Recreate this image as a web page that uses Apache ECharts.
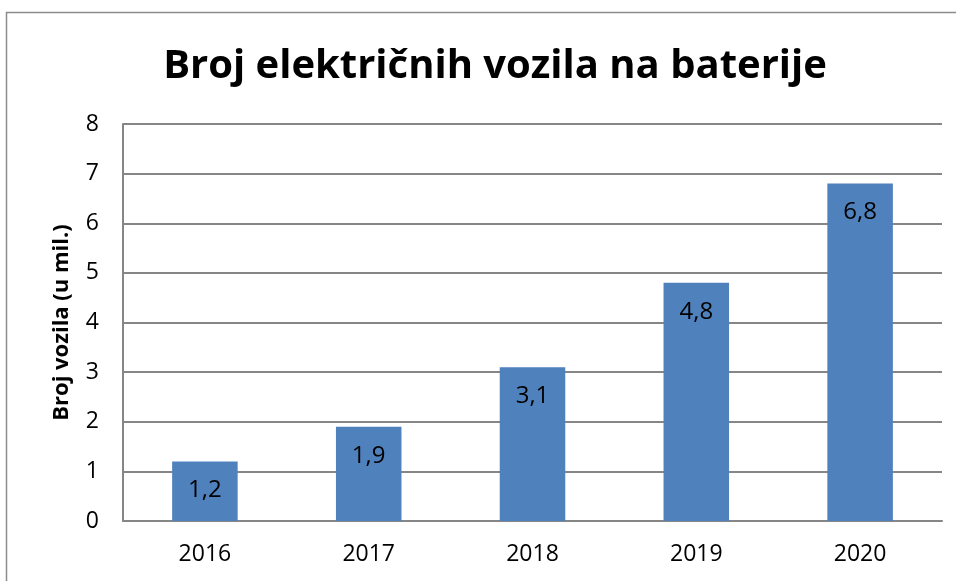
<!DOCTYPE html>
<html>
<head>
<meta charset="utf-8">
<script src="https://cdn.jsdelivr.net/npm/echarts@6/dist/echarts.min.js"></script>
<style>
  html, body { margin: 0; padding: 0; background: #fff; }
  #chart { width: 956px; height: 581px; }
</style>
</head>
<body>
<div id="chart"></div>
<script>
// podaci
const years = ['2016', '2017', '2018', '2019', '2020'];
const vehicles = [1.2, 1.9, 3.1, 4.8, 6.8];

const chart = echarts.init(document.getElementById('chart'));
const font = '"Open Sans", "Liberation Sans", sans-serif';

chart.setOption({
    animation: false,
    title: {
        text: 'Broj električnih vozila na baterije',
        left: 490,
        top: 42,
        textAlign: 'center',
        textStyle: { fontFamily: font, fontSize: 40, fontWeight: 'bold', color: '#000' }
    },
    // okvir grafikona
    graphic: [{
        type: 'rect',
        shape: { x: 6.5, y: 12.5, width: 1000, height: 1000 },
        style: { fill: 'none', stroke: '#8c8c8c', lineWidth: 1.5 },
        silent: true
    }],
    grid: { left: 123, right: 14, top: 124, bottom: 60 },
    xAxis: {
        type: 'category',
        data: years,
        axisLine: { lineStyle: { color: '#868686', width: 2 } },
        axisTick: { show: false },
        axisLabel: { fontFamily: font, fontSize: 23, color: '#000', margin: 22 }
    },
    yAxis: {
        type: 'value',
        min: 0,
        max: 8,
        interval: 1,
        name: 'Broj vozila (u mil.)',
        nameLocation: 'middle',
        nameGap: 50,
        nameTextStyle: { fontFamily: font, fontSize: 22, fontWeight: 'bold', color: '#000' },
        axisLine: { show: true, lineStyle: { color: '#868686', width: 2 } },
        axisTick: { show: false },
        axisLabel: { fontFamily: font, fontSize: 23, color: '#000', margin: 24 },
        splitLine: { lineStyle: { color: '#868686', width: 2 } }
    },
    series: [{
        type: 'bar',
        data: vehicles,
        barWidth: '40%',
        itemStyle: { color: '#4f81bd' },
        label: {
            show: true,
            position: 'insideTop',
            distance: 17,
            fontFamily: font,
            fontSize: 24,
            color: '#000',
            formatter: p => String(p.value).replace('.', ',')
        }
    }]
});
</script>
</body>
</html>
